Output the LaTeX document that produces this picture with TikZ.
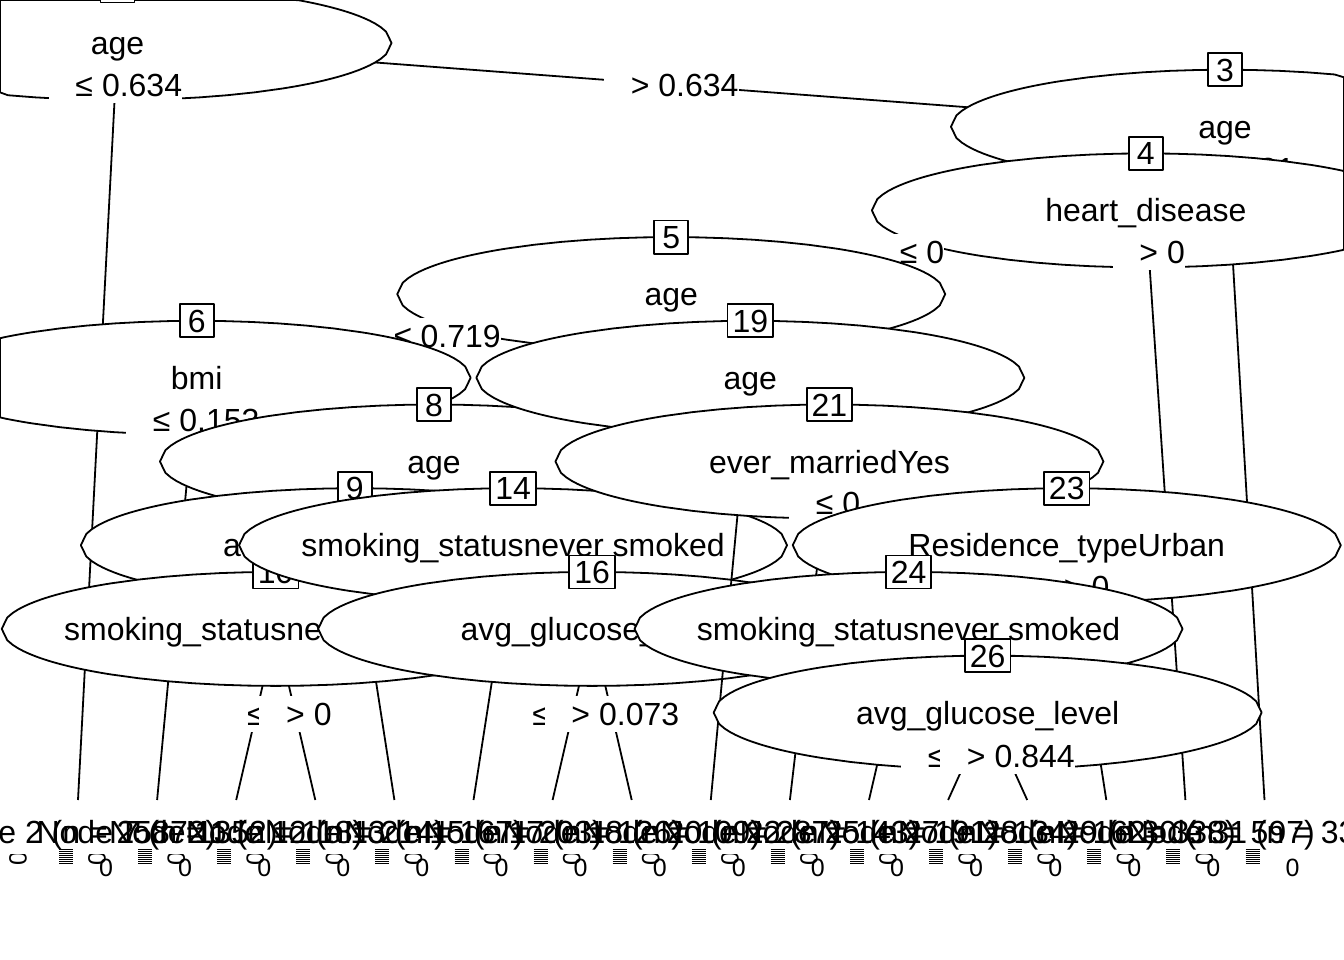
\documentclass[tikz,border=0pt]{standalone}
\usepackage{fontspec}
\setmainfont{Liberation Sans}
\usetikzlibrary{calc}

% split labels: an invisible leading digit, then the relation and the cut point
\newcommand\splitle[1]{\phantom{0}\hspace{9pt}≤\hspace{9pt}#1}
\newcommand\splitgt[1]{\phantom{0}\hspace{9pt}>\hspace{9pt}#1}

% inner node: polygonal ellipse (clamped to the page), variable name, id box
\newcommand\innerpanel[3]{%
  \path (#1); \pgfgetlastxy{\ecx}{\ecy}%
  \pgfmathsetmacro\ecxn{\ecx}%
  \pgfmathsetmacro\ecyn{-1*(\ecy)}%
  \filldraw[fill=white]
    plot[samples at={0,0.01,0.02,0.03,0.04,0.05,0.06,0.07,0.08,0.09,0.1,0.11,0.12,0.13,0.14,0.15,0.16,0.17,0.18,0.19,0.2,0.25,0.3,0.35,0.4,0.45,0.5,0.55,0.6,0.65,0.7,0.75,0.8,0.81,0.82,0.83,0.84,0.85,0.86,0.87,0.88,0.89,0.9,0.91,0.92,0.93,0.94,0.95,0.96,0.97,0.98,0.99,1}]
      ({max(0,min(1344,\ecxn+274*(2*\x-1)))},{max(0,\ecyn-114*sqrt(\x*(1-\x)))})
    -- plot[samples at={1,0.99,0.98,0.97,0.96,0.95,0.94,0.93,0.92,0.91,0.9,0.89,0.88,0.87,0.86,0.85,0.84,0.83,0.82,0.81,0.8,0.75,0.7,0.65,0.6,0.55,0.5,0.45,0.4,0.35,0.3,0.25,0.2,0.19,0.18,0.17,0.16,0.15,0.14,0.13,0.12,0.11,0.1,0.09,0.08,0.07,0.06,0.05,0.04,0.03,0.02,0.01,0}]
      ({max(0,min(1344,\ecxn+274*(2*\x-1)))},{\ecyn+114*sqrt(\x*(1-\x))})
    -- cycle;
  \node[varlabel] at (#1) {#3};
  \node[idbox] at ([yshift=57pt]#1) {#2};
}

% terminal node: title, squeezed bar and axis digits
\newcommand\terminalpanel[3]{%
  \node[tlabel] at ([shift={(0,31.5)}]#1) {Node #2 (n = #3)};
  \foreach \k in {0,...,7}
    \draw[line width=1pt] ([shift={(-19,49+2*\k)}]#1) -- ([shift={(-5,49+2*\k)}]#1);
  \begin{scope}
    \clip ([shift={(-78,54)}]#1) rectangle ([shift={(-42,80)}]#1);
    \node[axisnum, rotate=90] at ([shift={(-60,59)}]#1) {0};
  \end{scope}
  \node[axisnum] at ([shift={(28,68)}]#1) {0};
}

\begin{document}
\begin{tikzpicture}[x=1pt, y=-1pt, line width=1.8pt, line join=round,
  every node/.style={font=\fontsize{32}{38}\selectfont},
  varlabel/.style={inner sep=0pt, text height=23pt, text depth=0pt},
  idbox/.style={draw, fill=white, minimum width=34pt, minimum height=33pt,
    inner xsep=5pt, inner ysep=0pt, text height=23pt, text depth=0pt},
  elabel/.style={fill=white, inner xsep=0pt, inner ysep=6.5pt,
    text height=23pt, text depth=0pt},
  tlabel/.style={inner sep=0pt, text height=23pt, text depth=0pt},
  axisnum/.style={inner sep=0pt, font=\fontsize{25}{30}\selectfont}]
\useasboundingbox (0,0) rectangle (1344,960);

% inner node centres
\coordinate (n1)  at (117.55,43);
\coordinate (n3)  at (1224.95,126.7);
\coordinate (n4)  at (1145.85,210.4);
\coordinate (n5)  at (671.25,294.1);
\coordinate (n6)  at (196.65,377.8);
\coordinate (n19) at (750.35,377.8);
\coordinate (n8)  at (433.95,461.5);
\coordinate (n21) at (829.45,461.5);
\coordinate (n9)  at (354.85,545.2);
\coordinate (n14) at (513.05,545.2);
\coordinate (n23) at (1066.75,545.2);
\coordinate (n10) at (275.75,628.9);
\coordinate (n16) at (592.15,628.9);
\coordinate (n24) at (908.55,628.9);
\coordinate (n26) at (987.65,712.6);
% terminal panel tops
\coordinate (t2)  at (78,800);
\coordinate (t7)  at (157.1,800);
\coordinate (t11) at (236.2,800);
\coordinate (t12) at (315.3,800);
\coordinate (t13) at (394.4,800);
\coordinate (t15) at (473.5,800);
\coordinate (t17) at (552.6,800);
\coordinate (t18) at (631.7,800);
\coordinate (t20) at (710.8,800);
\coordinate (t22) at (789.9,800);
\coordinate (t25) at (869,800);
\coordinate (t27) at (948.1,800);
\coordinate (t28) at (1027.2,800);
\coordinate (t29) at (1106.3,800);
\coordinate (t30) at (1185.4,800);
\coordinate (t31) at (1264.5,800);

% node 1
\draw (n1) -- (t2); \draw (n1) -- (n3);
\innerpanel{n1}{1}{age}
\path (n1) -- node[elabel, pos=0.0553] {\splitle{0.634}} (t2);
\path (n1) -- node[elabel, pos=0.5] {\splitgt{0.634}} (n3);
\terminalpanel{t2}{2}{25872}
% node 3
\draw (n3) -- (n4); \draw (n3) -- (t31);
\innerpanel{n3}{3}{age}
\path (n3) -- node[elabel, pos=0.0622] {\splitgt{0.781}} (t31);
% node 4
\draw (n4) -- (n5); \draw (n4) -- (t30);
\innerpanel{n4}{4}{heart\_disease}
\path (n4) -- node[elabel, pos=0.5] {\splitle{0}} (n5);
\path (n4) -- node[elabel, pos=0.0710] {\splitgt{0}} (t30);
% node 5
\draw (n5) -- (n6); \draw (n5) -- (n19);
\innerpanel{n5}{5}{age}
\path (n5) -- node[elabel, pos=0.5] {\splitle{0.719}} (n6);
% node 6
\draw (n6) -- (t7); \draw (n6) -- (n8);
\innerpanel{n6}{6}{bmi}
\path (n6) -- node[elabel, pos=0.0991] {\splitle{0.153}} (t7);
\terminalpanel{t7}{7}{352}
% node 8
\draw (n8) -- (n9); \draw (n8) -- (n14);
\innerpanel{n8}{8}{age}
% node 9
\draw (n9) -- (n10); \draw (n9) -- (t13);
\innerpanel{n9}{9}{avg\_glucose\_level}
% node 10
\draw (n10) -- (t11); \draw (n10) -- (t12);
\innerpanel{n10}{10}{smoking\_statusnever smoked}
\path (n10) -- node[elabel, pos=0.5] {\splitle{0}} (t11);
\path (n10) -- node[elabel, pos=0.5] {\splitgt{0}} (t12);
\terminalpanel{t11}{11}{118}
\terminalpanel{t12}{12}{214}
\terminalpanel{t13}{13}{167}
% node 14
\draw (n14) -- (t15); \draw (n14) -- (n16);
\innerpanel{n14}{14}{smoking\_statusnever smoked}
\terminalpanel{t15}{15}{203}
% node 16
\draw (n16) -- (t17); \draw (n16) -- (t18);
\innerpanel{n16}{16}{avg\_glucose\_level}
\path (n16) -- node[elabel, pos=0.5] {\splitle{0.073}} (t17);
\path (n16) -- node[elabel, pos=0.5] {\splitgt{0.073}} (t18);
\terminalpanel{t17}{17}{126}
\terminalpanel{t18}{18}{109}
% node 19
\draw (n19) -- (t20); \draw (n19) -- (n21);
\innerpanel{n19}{19}{age}
\terminalpanel{t20}{20}{287}
% node 21
\draw (n21) -- (t22); \draw (n21) -- (n23);
\innerpanel{n21}{21}{ever\_marriedYes}
\path (n21) -- node[elabel, pos=0.1236] {\splitle{0}} (t22);
\terminalpanel{t22}{22}{143}
% node 23
\draw (n23) -- (n24); \draw (n23) -- (t29);
\innerpanel{n23}{23}{Residence\_typeUrban}
\path (n23) -- node[elabel, pos=0.1642] {\splitgt{0}} (t29);
% node 24
\draw (n24) -- (t25); \draw (n24) -- (n26);
\innerpanel{n24}{24}{smoking\_statusnever smoked}
\terminalpanel{t25}{25}{191}
% node 26
\draw (n26) -- (t27); \draw (n26) -- (t28);
\innerpanel{n26}{26}{avg\_glucose\_level}
\path (n26) -- node[elabel, pos=0.5] {\splitle{0.844}} (t27);
\path (n26) -- node[elabel, pos=0.5] {\splitgt{0.844}} (t28);
\terminalpanel{t27}{27}{134}
\terminalpanel{t28}{28}{162}
\terminalpanel{t29}{29}{338}
\terminalpanel{t30}{30}{597}
\terminalpanel{t31}{31}{3342}
\end{tikzpicture}
\end{document}
